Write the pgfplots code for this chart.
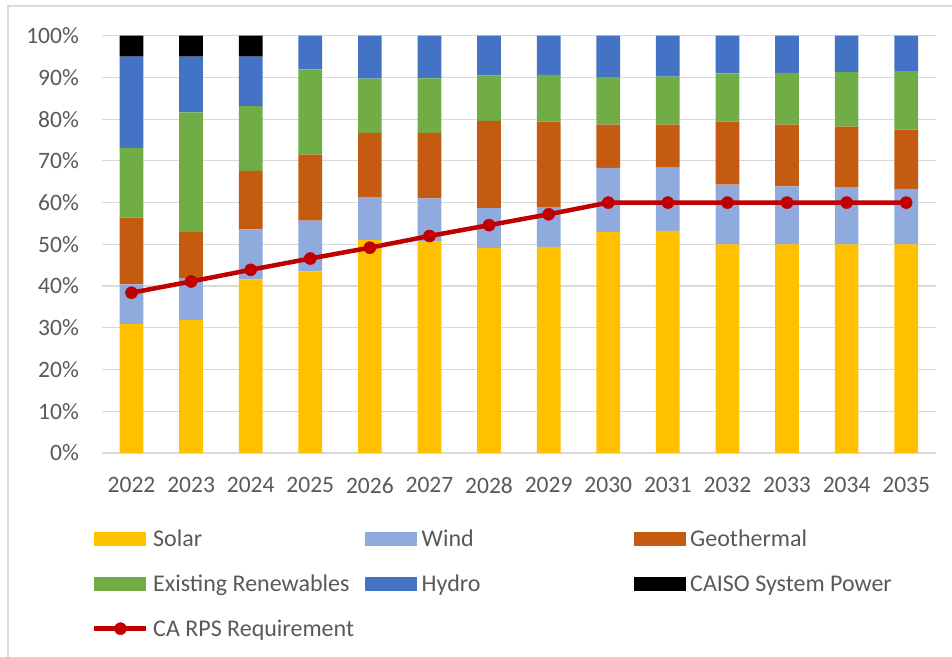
\documentclass[border=0pt]{standalone}
\usepackage{fontspec}
\setmainfont{Carlito}
\usepackage{pgfplots}
\usepackage{pgfplotstable}
\pgfplotsset{compat=1.18}
\definecolor{csolar}{HTML}{FFC000}
\definecolor{cwind}{HTML}{8FAADC}
\definecolor{cgeo}{HTML}{C55A11}
\definecolor{cexist}{HTML}{70AD47}
\definecolor{chydro}{HTML}{4472C4}
\definecolor{ccaiso}{HTML}{000000}
\definecolor{crps}{HTML}{C00000}
\definecolor{gridgray}{HTML}{D9D9D9}
\definecolor{textgray}{HTML}{595959}
\pgfplotsset{
  barleg/.style={legend image code/.code={\fill[##1,draw=none] (0bp,-7bp) rectangle (52bp,7bp);}},
  lineleg/.style={legend image code/.code={\draw[mark repeat=2,mark phase=2,##1,/tikz/sharp plot] plot coordinates {(0bp,0bp)(26bp,0bp)(52bp,0bp)};}},
}
\pgfplotstableread{
x solar wind geo exist hydro caiso rps
0 30.9 9.5 16.0 16.7 21.9 5.0 38.4
1 31.9 9.9 11.2 28.6 13.4 5.0 41.1
2 41.6 12.0 14.0 15.5 11.9 5.0 43.9
3 43.5 12.2 15.8 20.4 8.1 0 46.6
4 51.0 10.3 15.4 13.0 10.3 0 49.2
5 50.8 10.2 15.7 13.1 10.2 0 52.0
6 49.1 9.6 20.9 10.9 9.5 0 54.6
7 49.4 9.4 20.6 11.2 9.4 0 57.2
8 52.9 15.4 10.4 11.4 9.9 0 60.0
9 53.2 15.2 10.3 11.5 9.8 0 60.0
10 50.0 14.3 15.1 11.6 9.0 0 60.0
11 50.0 13.9 14.8 12.4 8.9 0 60.0
12 50.0 13.7 14.5 13.1 8.7 0 60.0
13 50.0 13.3 14.2 14.0 8.5 0 60.0
}\datatable
\newcommand{\lbl}[1]{\makebox[212bp][l]{\strut #1}}
\begin{document}
\fontsize{23bp}{28bp}\selectfont
\begin{tikzpicture}
\begin{axis}[
  at={(101.7bp,204bp)}, anchor=south west,
  scale only axis, width=834.3bp, height=417.3bp,
  xmin=-0.5, xmax=13.5, ymin=0, ymax=100,
  ybar stacked, bar width=23.7bp,
  xtick={0,1,2,3,4,5,6,7,8,9,10,11,12,13},
  xticklabels={2022,2023,2024,2025,2026,2027,2028,2029,2030,2031,2032,2033,2034,2035},
  ytick={0,10,20,30,40,50,60,70,80,90,100},
  yticklabels={0\%,10\%,20\%,30\%,40\%,50\%,60\%,70\%,80\%,90\%,100\%},
  major tick length=0pt,
  axis line style={draw=none},
  ymajorgrids, grid style={color=gridgray, line width=1.2bp},
  tick label style={color=textgray, font=\fontsize{23.5bp}{28bp}\selectfont},
  xticklabel style={anchor=north, inner sep=0pt, yshift=-24bp},
  yticklabel style={anchor=east, inner sep=0pt, xshift=-22.7bp},
  legend columns=3,
  legend style={draw=none, fill=none, at={(-0.0116,-0.177)}, anchor=north west,
    inner sep=0pt, row sep=22bp, text=textgray,
    font=\fontsize{24bp}{28bp}\selectfont,
    cells={anchor=west}, nodes={inner sep=0pt},
    /tikz/every odd column/.append style={column sep=4.5bp}},
]
\addplot[fill=csolar, draw=none, barleg] table[x=x,y=solar]{\datatable};
\addlegendentry{\lbl{Solar}}
\addplot[fill=cwind, draw=none, barleg] table[x=x,y=wind]{\datatable};
\addlegendentry{\lbl{Wind}}
\addplot[fill=cgeo, draw=none, barleg] table[x=x,y=geo]{\datatable};
\addlegendentry{\lbl{Geothermal}}
\addplot[fill=cexist, draw=none, barleg] table[x=x,y=exist]{\datatable};
\addlegendentry{\lbl{Existing Renewables}}
\addplot[fill=chydro, draw=none, barleg] table[x=x,y=hydro]{\datatable};
\addlegendentry{\lbl{Hydro}}
\addplot[fill=ccaiso, draw=none, barleg] table[x=x,y=caiso]{\datatable};
\addlegendentry{\lbl{CAISO System Power}}
\addlegendimage{crps, line width=4.5bp, mark=*, mark size=6bp, mark options={fill=crps, draw=crps, line width=0.5bp}, lineleg}
\addlegendentry{\lbl{CA RPS Requirement}}
\end{axis}
\begin{axis}[
  at={(101.7bp,204bp)}, anchor=south west,
  scale only axis, width=834.3bp, height=417.3bp,
  xmin=-0.5, xmax=13.5, ymin=0, ymax=100,
  hide axis,
]
\addplot[crps, line width=4.5bp, mark=*, mark size=6bp, mark options={fill=crps, draw=crps, line width=0.5bp}] table[x=x,y=rps]{\datatable};
\end{axis}
\draw[gridgray, line width=1.2bp] (8bp,-30bp) rectangle (990bp,651bp);
\pgfresetboundingbox
\useasboundingbox (0,0) rectangle (952bp,657bp);
\end{tikzpicture}
\end{document}
